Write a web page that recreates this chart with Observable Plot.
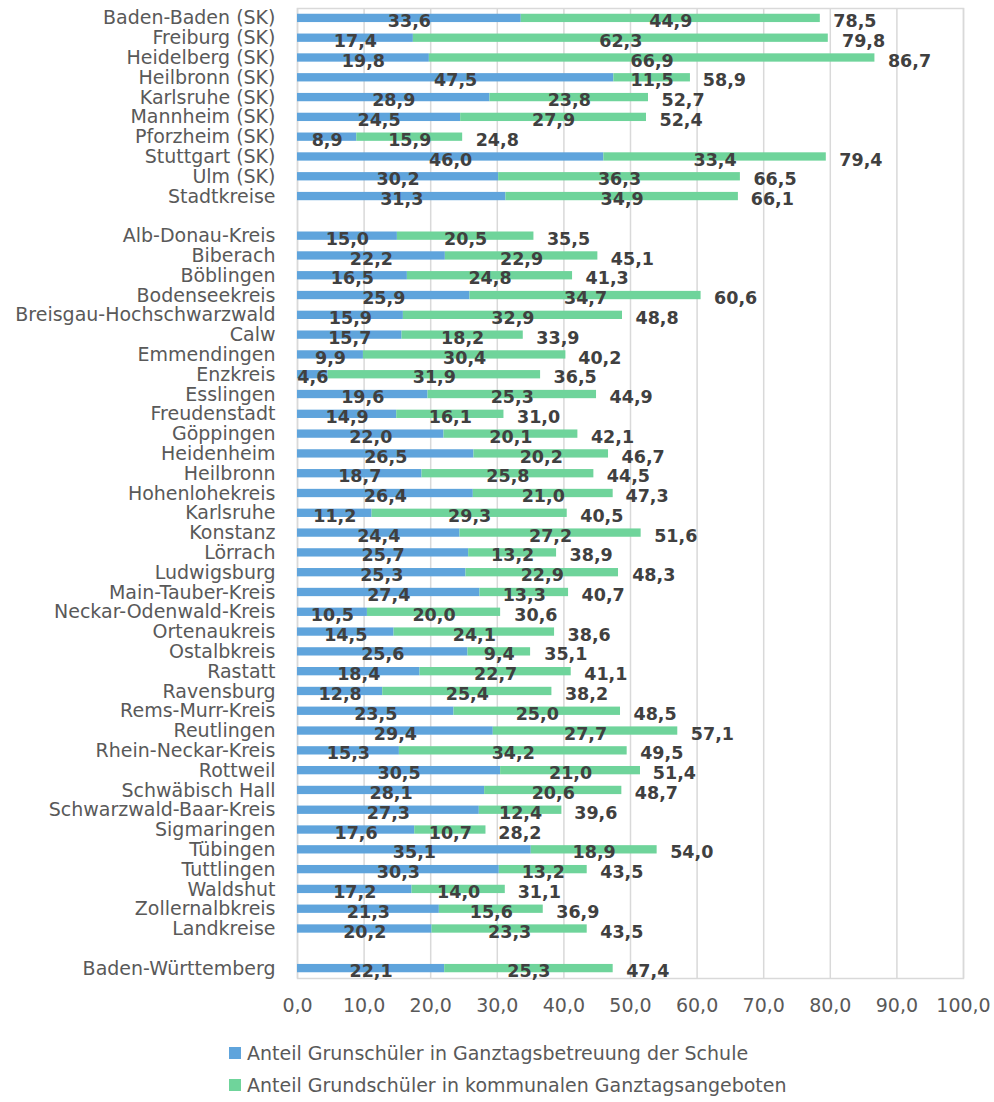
<!DOCTYPE html>
<html>
<head>
<meta charset="utf-8">
<script src="https://cdn.jsdelivr.net/npm/d3@7"></script>
<script src="https://cdn.jsdelivr.net/npm/@observablehq/plot@0.6"></script>
<style>
  html, body { margin: 0; padding: 0; background: #fff; }
  #chart svg { display: block; }
  .legend { font-family: "DejaVu Sans", sans-serif; font-size: 19px; color: #595959; padding-left: 229px; }
  .legend .item { height: 32px; display: flex; align-items: center; }
  .legend .sw { width: 12px; height: 12px; margin-right: 6px; flex: none; }
</style>
</head>
<body>
<div id="chart"></div>
<div class="legend" id="legend"></div>
<script>
// Categories (top to bottom); "" and " " are blank spacer rows
const categories = [
  "Baden-Baden (SK)", "Freiburg (SK)", "Heidelberg (SK)", "Heilbronn (SK)", "Karlsruhe (SK)",
  "Mannheim (SK)", "Pforzheim (SK)", "Stuttgart (SK)", "Ulm (SK)", "Stadtkreise",
  "",
  "Alb-Donau-Kreis", "Biberach", "Böblingen", "Bodenseekreis", "Breisgau-Hochschwarzwald",
  "Calw", "Emmendingen", "Enzkreis", "Esslingen", "Freudenstadt", "Göppingen", "Heidenheim",
  "Heilbronn", "Hohenlohekreis", "Karlsruhe", "Konstanz", "Lörrach", "Ludwigsburg",
  "Main-Tauber-Kreis", "Neckar-Odenwald-Kreis", "Ortenaukreis", "Ostalbkreis", "Rastatt",
  "Ravensburg", "Rems-Murr-Kreis", "Reutlingen", "Rhein-Neckar-Kreis", "Rottweil",
  "Schwäbisch Hall", "Schwarzwald-Baar-Kreis", "Sigmaringen", "Tübingen", "Tuttlingen",
  "Waldshut", "Zollernalbkreis", "Landkreise",
  " ",
  "Baden-Württemberg"
];

const seriesNames = [
  "Anteil Grunschüler in Ganztagsbetreuung der Schule",
  "Anteil Grundschüler in kommunalen Ganztagsangeboten"
];

// Schule (blue), null for spacer rows
const schule = [
  33.6, 17.4, 19.8, 47.5, 28.9, 24.5, 8.9, 46.0, 30.2, 31.3,
  null,
  15.0, 22.2, 16.5, 25.9, 15.9, 15.7, 9.9, 4.6, 19.6, 14.9, 22.0, 26.5,
  18.7, 26.4, 11.2, 24.4, 25.7, 25.3, 27.4, 10.5, 14.5, 25.6, 18.4,
  12.8, 23.5, 29.4, 15.3, 30.5, 28.1, 27.3, 17.6, 35.1, 30.3, 17.2, 21.3, 20.2,
  null,
  22.1
];

// Kommunal (green)
const kommunal = [
  44.9, 62.3, 66.9, 11.5, 23.8, 27.9, 15.9, 33.4, 36.3, 34.9,
  null,
  20.5, 22.9, 24.8, 34.7, 32.9, 18.2, 30.4, 31.9, 25.3, 16.1, 20.1, 20.2,
  25.8, 21.0, 29.3, 27.2, 13.2, 22.9, 13.3, 20.0, 24.1, 9.4, 22.7,
  25.4, 25.0, 27.7, 34.2, 21.0, 20.6, 12.4, 10.7, 18.9, 13.2, 14.0, 15.6, 23.3,
  null,
  25.3
];

// Totals as printed
const totals = [
  78.5, 79.8, 86.7, 58.9, 52.7, 52.4, 24.8, 79.4, 66.5, 66.1,
  null,
  35.5, 45.1, 41.3, 60.6, 48.8, 33.9, 40.2, 36.5, 44.9, 31.0, 42.1, 46.7,
  44.5, 47.3, 40.5, 51.6, 38.9, 48.3, 40.7, 30.6, 38.6, 35.1, 41.1,
  38.2, 48.5, 57.1, 49.5, 51.4, 48.7, 39.6, 28.2, 54.0, 43.5, 31.1, 36.9, 43.5,
  null,
  47.4
];

const xTicks = [0, 10, 20, 30, 40, 50, 60, 70, 80, 90, 100];
const colors = ["#5fa4dc", "#6fd49b"];

const fmt = v => v.toFixed(1).replace(".", ",");

// Build long table
const segs = [];
const totalRows = [];
categories.forEach((c, i) => {
  if (schule[i] == null) return;
  const a = schule[i], b = kommunal[i];
  segs.push({cat: c, series: seriesNames[0], x1: 0, x2: a, mid: a / 2, v: a});
  segs.push({cat: c, series: seriesNames[1], x1: a, x2: a + b, mid: a + b / 2, v: b});
  totalRows.push({cat: c, x: totals[i], v: totals[i]});
});

const chart = Plot.plot({
  width: 994,
  height: 1030,
  marginLeft: 297,
  marginRight: 31,
  marginTop: 8,
  marginBottom: 52,
  style: {fontFamily: "DejaVu Sans, sans-serif", background: "#fff"},
  x: {domain: [0, 100], ticks: xTicks, label: null},
  y: {domain: categories, paddingInner: 0.58, paddingOuter: 0.29, label: null},
  color: {domain: seriesNames, range: colors},
  marks: [
    Plot.gridX(xTicks, {stroke: "#d9d9d9", strokeOpacity: 1, strokeWidth: 1.5}),
    Plot.frame({stroke: "#d9d9d9", strokeWidth: 1.5}),
    Plot.barX(segs, {y: "cat", x1: "x1", x2: "x2", fill: "series"}),
    Plot.text(segs, {y: "cat", x: "mid", text: d => fmt(d.v), fill: "#404040",
      fontWeight: "bold", fontSize: 17.5, dy: 3}),
    Plot.text(totalRows, {y: "cat", x: "x", text: d => fmt(d.v), fill: "#404040",
      fontWeight: "bold", fontSize: 17.5, dy: 3, dx: 13, textAnchor: "start"}),
    Plot.axisX(xTicks, {tickSize: 0, tickPadding: 20, tickFormat: fmt, fontSize: 19,
      fill: "#595959", label: null}),
    Plot.axisY({tickSize: 0, tickPadding: 22, fontSize: 19, fill: "#595959", label: null})
  ]
});
document.getElementById("chart").appendChild(chart);

const legend = document.getElementById("legend");
legend.style.marginTop = "7px";
seriesNames.forEach((s, i) => {
  const item = document.createElement("div");
  item.className = "item";
  const sw = document.createElement("span");
  sw.className = "sw";
  sw.style.background = colors[i];
  const t = document.createElement("span");
  t.textContent = s;
  item.appendChild(sw);
  item.appendChild(t);
  legend.appendChild(item);
});
</script>
</body>
</html>
